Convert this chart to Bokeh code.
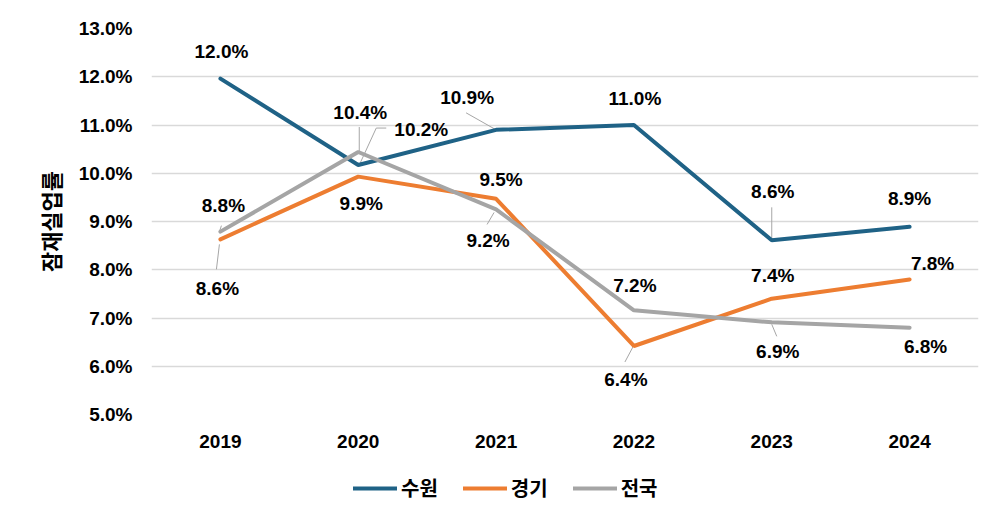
from bokeh.plotting import figure
from bokeh.layouts import column
from bokeh.models import (ColumnDataSource, FixedTicker, PrintfTickFormatter, Legend, LegendItem, Range1d)
from bokeh.core.properties import value
from bokeh.embed import file_html
from bokeh.resources import INLINE

years = ["2019", "2020", "2021", "2022", "2023", "2024"]
suwon = [11.96, 10.17, 10.90, 11.00, 8.61, 8.89]
gyeonggi = [8.63, 9.93, 9.47, 6.42, 7.40, 7.80]
national = [8.79, 10.44, 9.25, 7.16, 6.91, 6.80]
series_names = ["수원", "경기", "전국"]
y_ticks = [5, 6, 7, 8, 9, 10, 11, 12, 13]

colors = ["#1F6286", "#ED7D31", "#A5A5A5"]

# label pixel offsets (dx, dy) relative to each point (screen: +dy = down)
lab_off = {
    "수원": [(1, -27), (63, -36), (-29, -32), (1, -27), (1, -49), (0, -28)],
    "경기": [(-3, 49), (3, 27), (5, -19), (-8, 34), (1, -23), (23, -16)],
    "전국": [(3, -26), (2, -40), (-8, 31), (1, -25), (6, 29), (16, 19)],
}
# leader lines: (series, index, [(dx,dy),...]) in pixels relative to point
leaders = [
    ("수원", 1, [(1, 0), (18, -37), (28, -37)]),
    ("전국", 1, [(1, 0), (1, -25)]),
    ("수원", 2, [(0, 0), (-30, -17)]),
    ("경기", 0, [(-1, 5), (-4, 30)]),
    ("전국", 0, [(1, -6), (-1, 0)]),
    ("전국", 2, [(-2, 3), (-9, 15)]),
    ("수원", 4, [(0, -33), (0, 0)]),
    ("경기", 3, [(-1, 1), (-9, 16)]),
    ("전국", 4, [(0, 2), (5, 14)]),
]

W = 990
ML, MR, MT = 151, 12, 28
FW, FH = W - ML - MR, 386
MB = 53
H = MT + FH + MB
Y0, Y1 = y_ticks[0], y_ticks[-1]
PXX = FW / len(years)
PXY = FH / (Y1 - Y0)

p = figure(width=W, height=H, output_backend="svg", toolbar_location=None,
           x_range=Range1d(0, len(years)), y_range=Range1d(Y0, Y1),
           min_border_left=ML, min_border_right=MR, min_border_top=MT, min_border_bottom=MB)
p.outline_line_color = None
p.background_fill_color = "white"
p.border_fill_color = "white"

xs = [i + 0.5 for i in range(len(years))]
data = dict(zip(series_names, [suwon, gyeonggi, national]))

# leader lines
lx, ly = [], []
for name, idx, pts in leaders:
    x0, y0 = xs[idx], data[name][idx]
    lx.append([x0 + dx / PXX for dx, dy in pts])
    ly.append([y0 - dy / PXY for dx, dy in pts])
p.multi_line(xs=lx, ys=ly, line_color="#A6A6A6", line_width=1)

for name, col in zip(series_names, colors):
    p.line(xs, data[name], line_color=col, line_width=4, line_cap="round")

for name in series_names:
    vals = data[name]
    src = ColumnDataSource(dict(
        x=xs, y=vals, t=[f"{v:.1f}%" for v in vals],
        dx=[o[0] for o in lab_off[name]], dy=[o[1] for o in lab_off[name]]))
    p.text(x="x", y="y", text="t", x_offset="dx", y_offset="dy", source=src,
           text_align="center", text_baseline="middle",
           text_font=value("Liberation Sans"), text_font_style="bold",
           text_font_size="19px", text_color="black")

# axes
p.xaxis.ticker = FixedTicker(ticks=xs)
p.xaxis.major_label_overrides = {x: y for x, y in zip(xs, years)}
p.yaxis.ticker = FixedTicker(ticks=y_ticks)
p.yaxis.formatter = PrintfTickFormatter(format="%.1f%%")
for ax in (p.xaxis, p.yaxis):
    ax.axis_line_color = None
    ax.major_tick_line_color = None
    ax.minor_tick_line_color = None
    ax.major_tick_out = 0
    ax.major_tick_in = 0
    ax.major_label_text_font = "Liberation Sans"
    ax.major_label_text_font_style = "bold"
    ax.major_label_text_font_size = "19px"
    ax.major_label_text_color = "black"
p.xaxis.major_label_standoff = 20
p.yaxis.major_label_standoff = 19
p.yaxis.axis_label = "잠재실업률"
p.yaxis.axis_label_text_font = "Noto Sans CJK KR"
p.yaxis.axis_label_text_font_style = "bold"
p.yaxis.axis_label_text_font_size = "22px"
p.yaxis.axis_label_text_color = "black"
p.yaxis.axis_label_standoff = 10

p.xgrid.grid_line_color = None
p.ygrid.grid_line_color = "#D9D9D9"
p.ygrid.grid_line_width = 1.5

# legend strip (frame aligned with the chart above)
LH = 44
q = figure(width=W, height=LH, output_backend="svg", toolbar_location=None,
           x_range=Range1d(0, 1), y_range=Range1d(0, 1),
           x_axis_location=None, y_axis_location=None,
           min_border_left=0, min_border_right=0, min_border_top=0, min_border_bottom=0)
q.outline_line_color = None
q.grid.visible = False
lrs = [q.line([-5, -4], [-5, -4], line_color=c, line_width=4, line_cap="round") for c in colors]
legend = Legend(items=[LegendItem(label=n, renderers=[r]) for n, r in zip(series_names, lrs)],
                orientation="horizontal", location=(202, 9))
legend.label_text_font = "Noto Sans CJK KR"
legend.label_text_font_style = "bold"
legend.label_text_font_size = "20px"
legend.label_text_color = "black"
legend.glyph_width = 44
legend.glyph_height = 20
legend.label_standoff = 4
legend.spacing = 25
legend.border_line_color = None
legend.background_fill_alpha = 0
legend.margin = 0
legend.padding = 2
q.add_layout(legend, "center")

layout = column(p, q, spacing=0)
open("out.html", "w").write(file_html(layout, INLINE))
